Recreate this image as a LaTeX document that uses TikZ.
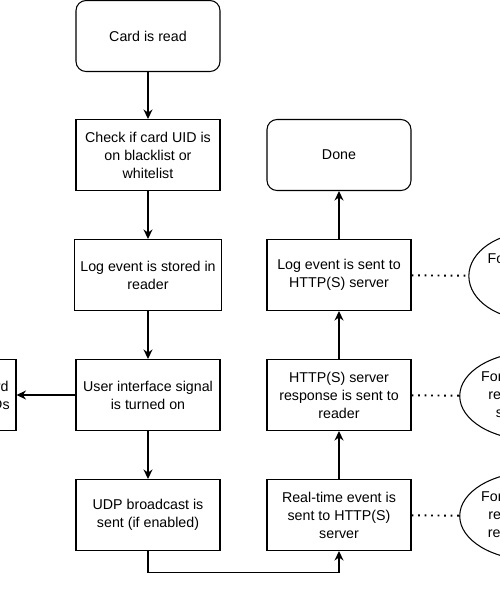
\documentclass[tikz,border=0pt]{standalone}
\usepackage{fontspec}
\setmainfont{Liberation Sans}
\usetikzlibrary{arrows.meta}
\usetikzlibrary{positioning}
\usetikzlibrary{shapes.geometric}

\begin{document}
\begin{tikzpicture}[
					x=0.02cm, y=-0.02cm,
					arrow/.style={line width=0.6pt, -{Stealth[length=1.9mm, width=1.8mm]}},
					dots/.style={line width=1.1pt, dash pattern=on 1.1pt off 2.6pt},
					stepbox/.style={draw, line width=0.6pt, minimum width=2.88cm, minimum height=1.42cm, align=center, font=\fontsize{8.1}{10.2}\selectfont},
					endbox/.style={stepbox, rounded corners=0.2cm},
					note/.style={draw, ellipse, line width=0.6pt, minimum width=2.4cm, minimum height=1.76cm, inner sep=0pt, align=center, font=\fontsize{8.1}{10.2}\selectfont},
				]
			        \useasboundingbox (0, 0) rectangle (500, 602);
			        \clip (0, 0) rectangle (500, 602);

			        % left column
			        \node[endbox] (card) at (148, 36) {Card is read};
			        \node[stepbox] (check) at (148, 155) {Check if card UID is\\on blacklist or\\whitelist};
			        \node[stepbox] (logstore) at (148, 275) {Log event is stored in\\reader};
			        \node[stepbox] (ui) at (148, 395) {User interface signal\\is turned on};
			        \node[stepbox] (udp) at (148, 515) {UDP broadcast is\\sent (if enabled)};
			        \node[stepbox] (feedback) at (-56, 395) {Signals on keyboard\\and the reader LEDs};

			        % right column
			        \node[endbox] (done) at (339, 155) {Done};
			        \node[stepbox] (logsent) at (339, 275) {Log event is sent to\\HTTP(S) server};
			        \node[stepbox] (response) at (339, 395) {HTTP(S) server\\response is sent to\\reader};
			        \node[stepbox] (realtime) at (339, 515) {Real-time event is\\sent to HTTP(S)\\server};

			        \node[note] (info1) at (533, 276) {For offline and\\online\\readers};
			        \node[note] (info2) at (533, 396) {For online-mode\\readers with a\\server reply};
			        \node[note] (info3) at (533, 516) {For online-mode\\readers with a\\real-time push};

			        \draw[arrow] (card) -- (check);
			        \draw[arrow] (check) -- (logstore);
			        \draw[arrow] (logstore) -- (ui);
			        \draw[arrow] (ui) -- (udp);
			        \draw[arrow] (ui) -- (feedback);
			        \draw[arrow] (udp.south) -- ++(0, 21) -| (realtime.south);
			        \draw[arrow] (realtime) -- (response);
			        \draw[arrow] (response) -- (logsent);
			        \draw[arrow] (logsent) -- (done);

			        \draw[dots] (logsent) -- (info1);
			        \draw[dots] (response) -- (info2);
			        \draw[dots] (realtime) -- (info3);
			    \end{tikzpicture}
\end{document}
